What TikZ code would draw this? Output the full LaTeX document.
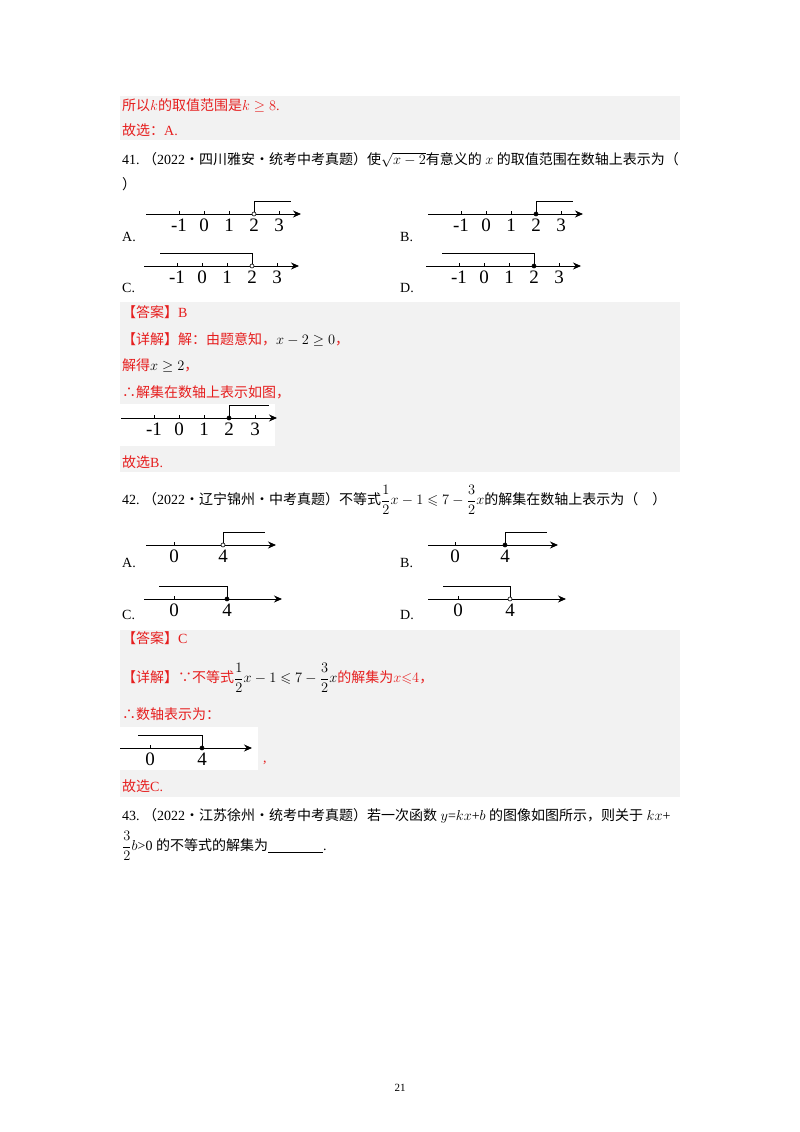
\documentclass[tikz,border=0pt]{standalone}
\usepackage{amsmath,amssymb}
\usepackage{fontspec}
\usetikzlibrary{arrows.meta}
\setmainfont{Liberation Serif}
\newfontfamily\zhf{Noto Sans CJK SC}
\newcommand\zh[1]{{\zhf #1}}
\definecolor{ansred}{RGB}{230,30,30}
\definecolor{boxgray}{RGB}{242,242,242}
\begin{document}
\begin{tikzpicture}[x=1pt,y=-1pt,
  txt/.style={anchor=west,inner sep=0pt,font=\fontsize{14}{16}\selectfont},
  rtxt/.style={txt,text=ansred},
  axl/.style={inner sep=0pt,font=\fontsize{19}{20}\selectfont},
  axis/.style={line width=0.9pt,-{Stealth[length=8pt,width=7pt]}},
  brk/.style={line width=0.8pt}]
\useasboundingbox (0,0) rectangle (800,1132);
\fill[white] (0,0) rectangle (800,1132);
\newcommand\nline[7]{%
  \draw[axis] (#1,#3) -- (#2,#3);
  \foreach \tx/\tl in {#4}{\draw[line width=0.7pt] (\tx,#3) -- (\tx,#3-3);
    \node[axl,anchor=north] at (\tx,#3+5) {\tl};}
  \draw[brk] (#5,#3) -- (#5,#3-13) -- (#6,#3-13);
  \filldraw[fill=#7,draw=black,line width=0.6pt] (#5,#3) circle (2pt);}
% box 1
\fill[boxgray] (120,96) rectangle (680,140);
\node[rtxt] (t1) at (122,106) {\zh{所以}$k$\zh{的取值范围是}$k\geq 8$.};
\node[rtxt] (t2) at (122,130) {\zh{故选：}A.};
% 41
\node[txt] (q41) at (122,160) {41.\ \zh{（}2022\zh{·四川雅安·统考中考真题）使}$\sqrt{x-2}$\zh{有意义的} $x$ \zh{的取值范围在数轴上表示为（}};
\node[txt] (q41b) at (122,184) {\zh{）}};
\nline{146}{301}{214}{179/-1,204/0,229/1,254/2,279/3}{254}{291}{white}
\nline{428}{583}{214}{461/-1,486/0,511/1,536/2,561/3}{536}{573}{black}
\nline{144}{299}{266}{177/-1,202/0,227/1,252/2,277/3}{252}{160}{white}
\nline{426}{581}{266}{459/-1,484/0,509/1,534/2,559/3}{534}{442}{black}
\node[txt] at (122,237) {A.};
\node[txt] at (400,237) {B.};
\node[txt] at (122,288) {C.};
\node[txt] at (400,288) {D.};
% box 2
\fill[boxgray] (120,302) rectangle (680,472);
\fill[white] (120,404) rectangle (275,446);
\node[rtxt] at (122,312) {\zh{【答案】}B};
\node[rtxt] at (122,340) {\zh{【详解】解：由题意知，}\textcolor{black}{$x-2\geq 0$}\zh{，}};
\node[rtxt] at (122,366) {\zh{解得}\textcolor{black}{$x\geq 2$}\zh{，}};
\node[rtxt] at (122,392) {\zh{∴解集在数轴上表示如图，}};
\nline{121}{277}{418}{154/-1,179/0,204/1,229/2,255/3}{229}{269}{black}
\node[rtxt] at (122,462) {\zh{故选}B.};
% 42
\node[txt] at (122,500) {42.\ \zh{（}2022\zh{·辽宁锦州·中考真题）不等式}$\dfrac12x-1\leqslant 7-\dfrac32x$\zh{的解集在数轴上表示为（\quad ）}};
\nline{146}{276}{545}{174/0,223/4}{223}{265}{white}
\nline{428}{558}{545}{455/0,505/4}{505}{547}{black}
\nline{144}{282}{599}{174/0,227/4}{227}{159}{black}
\nline{428}{566}{599}{458/0,510/4}{510}{443}{white}
\node[txt] at (122,563) {A.};
\node[txt] at (400,563) {B.};
\node[txt] at (122,615) {C.};
\node[txt] at (400,615) {D.};
% box 3
\fill[boxgray] (120,630) rectangle (680,797);
\fill[white] (120,727) rectangle (258,770);
\node[rtxt] at (122,638) {\zh{【答案】}C};
\node[rtxt] at (122,678) {\zh{【详解】∵不等式}\textcolor{black}{$\dfrac12x-1\leqslant 7-\dfrac32x$}\zh{的解集为}$x{\leqslant}4$\zh{，}};
\node[rtxt] at (122,714) {\zh{∴数轴表示为：}};
\nline{120}{252}{748}{150/0,202/4}{202}{138}{black}
\node[rtxt] at (263,763) {,};
\node[rtxt] at (122,786) {\zh{故选}C.};
% 43
\node[txt] at (122,816) {43.\ \zh{（}2022\zh{·江苏徐州·统考中考真题）若一次函数} $y$=$kx$+$b$ \zh{的图像如图所示，则关于} $kx$+};
\node[txt] at (122,846) {$\dfrac32$$b$>0 \zh{的不等式的解集为}\underline{\hspace{55pt}}.};
\node[inner sep=0pt,font=\fontsize{11}{12}\selectfont] at (400,1088) {21};
\end{tikzpicture}
\end{document}
